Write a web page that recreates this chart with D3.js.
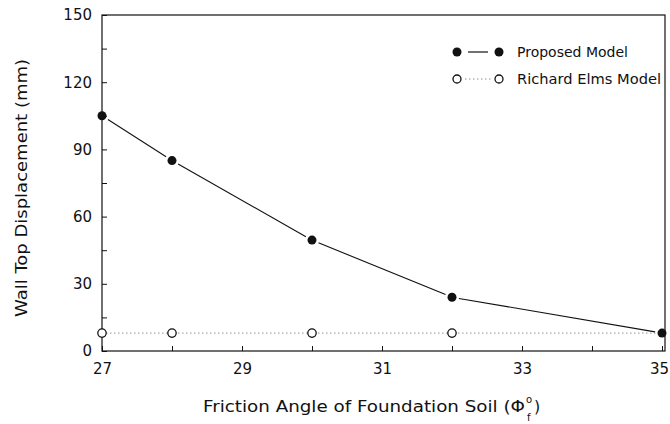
<!DOCTYPE html>
<html><head><meta charset="utf-8">
<script src="https://cdn.jsdelivr.net/npm/d3@7"></script>
<style>body{margin:0;background:#fff}svg{display:block}text{font-family:"DejaVu Sans",sans-serif;fill:#111}</style>
</head><body><svg id="c" width="670" height="424"></svg>
<script>
const xTicks = [27, 29, 31, 33, 35];
const yTicks = [0, 30, 60, 90, 120, 150];
const proposedX = [27, 28, 30, 32, 35];
const proposedY = [105, 85, 49.5, 24, 8];
const elmsX = [27, 28, 30, 32];
const elmsY = [8, 8, 8, 8];
const elmsLineX = [27, 35];
const elmsLineY = [8, 8];
const seriesNames = ["Proposed Model", "Richard Elms Model"];

const svg = d3.select("#c");
const m = {l:102, r:665, t:15, b:351};
const x = d3.scaleLinear().domain([27,35]).range([m.l, 662]);
const y = d3.scaleLinear().domain([0,150]).range([m.b, m.t]);

// frame
svg.append("rect").attr("x", m.l).attr("y", m.t).attr("width", m.r-m.l).attr("height", m.b-m.t)
  .attr("fill","none").attr("stroke","#111").attr("stroke-width",1.2);

// x axis
const xa = svg.append("g").attr("transform",`translate(0,${m.b})`)
  .call(d3.axisBottom(x).tickValues(d3.range(27,36)).tickSize(-5).tickFormat(d => xTicks.includes(d) ? d : ""));
xa.select(".domain").remove();
xa.selectAll("line").attr("stroke","#111");
xa.selectAll("text").attr("dy","0").attr("y",23).attr("font-size",15).attr("fill","#111")
  .attr("dx", d => d === 35 ? -3 : 0);

const ya = svg.append("g").attr("transform",`translate(${m.l},0)`)
  .call(d3.axisLeft(y).tickValues(d3.range(0,151,15)).tickSize(-5).tickFormat(d => yTicks.includes(d) ? d : ""));
ya.select(".domain").remove();
ya.selectAll("line").attr("stroke","#111");
ya.selectAll("text").attr("x",-10).attr("font-size",15).attr("fill","#111");
xa.attr("font-family","DejaVu Sans"); ya.attr("font-family","DejaVu Sans");

// elms dotted line
svg.append("path").datum(d3.zip(elmsLineX, elmsLineY))
  .attr("d", d3.line().x(d=>x(d[0])).y(d=>y(d[1])))
  .attr("fill","none").attr("stroke","#888").attr("stroke-width",0.9).attr("stroke-dasharray","1.5,2.5");

// proposed line with gaps near markers
const pp = d3.zip(proposedX, proposedY);
const gap = 7;
for (let i=0;i<pp.length-1;i++){
  const x1=x(pp[i][0]), y1=y(pp[i][1]), x2=x(pp[i+1][0]), y2=y(pp[i+1][1]);
  const L=Math.hypot(x2-x1,y2-y1), ux=(x2-x1)/L, uy=(y2-y1)/L;
  svg.append("line").attr("x1",x1+ux*gap).attr("y1",y1+uy*gap).attr("x2",x2-ux*gap).attr("y2",y2-uy*gap)
    .attr("stroke","#111").attr("stroke-width",1.1);
}
svg.selectAll(".pm").data(pp).join("circle").attr("cx",d=>x(d[0])).attr("cy",d=>y(d[1])).attr("r",4.5).attr("fill","#111");
svg.selectAll(".em").data(d3.zip(elmsX, elmsY)).join("circle").attr("cx",d=>x(d[0])).attr("cy",d=>y(d[1])).attr("r",4.2)
  .attr("fill","#fff").attr("stroke","#111").attr("stroke-width",1.3);

// legend
const lg = svg.append("g");
lg.append("circle").attr("cx",457).attr("cy",52).attr("r",4.5).attr("fill","#111");
lg.append("line").attr("x1",468).attr("x2",488).attr("y1",52).attr("y2",52).attr("stroke","#111").attr("stroke-width",1.2);
lg.append("circle").attr("cx",499).attr("cy",52).attr("r",4.5).attr("fill","#111");
lg.append("text").attr("x",517).attr("y",57).attr("font-size",13.5).attr("textLength",111).attr("lengthAdjust","spacingAndGlyphs").text(seriesNames[0]);
lg.append("circle").attr("cx",457).attr("cy",79).attr("r",4).attr("fill","#fff").attr("stroke","#111").attr("stroke-width",1.3);
lg.append("line").attr("x1",465).attr("x2",491).attr("y1",79).attr("y2",79).attr("stroke","#888").attr("stroke-width",0.9).attr("stroke-dasharray","1.5,2.5");
lg.append("circle").attr("cx",499).attr("cy",79).attr("r",4).attr("fill","#fff").attr("stroke","#111").attr("stroke-width",1.3);
lg.append("text").attr("x",517).attr("y",84).attr("font-size",13.5).attr("textLength",144).attr("lengthAdjust","spacingAndGlyphs").text(seriesNames[1]);

// titles
svg.append("text").attr("transform","translate(27,188) rotate(-90)").attr("text-anchor","middle").attr("font-size",16)
  .attr("textLength",258).attr("lengthAdjust","spacingAndGlyphs")
  .text("Wall Top Displacement (mm)");
const xt = svg.append("text").attr("x",203).attr("y",412).attr("font-size",16)
  .attr("textLength",322).attr("lengthAdjust","spacingAndGlyphs").text("Friction Angle of Foundation Soil (Φ");
const xe = 203 + 322;
svg.append("text").attr("x",xe+1).attr("y",403).attr("font-size",10).text("o");
svg.append("text").attr("x",xe+2).attr("y",421).attr("font-size",10).text("f");
svg.append("text").attr("x",xe+9).attr("y",412).attr("font-size",16).text(")");
</script></body></html>
